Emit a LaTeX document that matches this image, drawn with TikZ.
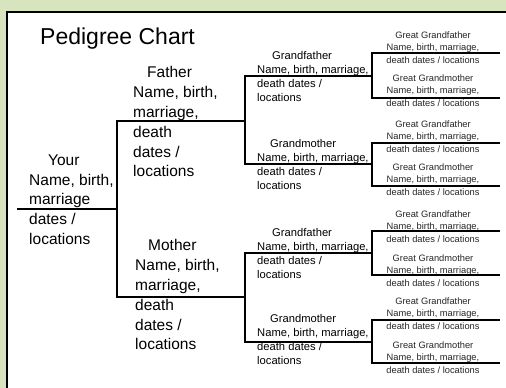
\documentclass[tikz,border=0pt]{standalone}
\usepackage{fontspec}
\setmainfont{Liberation Sans}
\usetikzlibrary{backgrounds}

\definecolor{bggreen}{HTML}{D7E4BD}

\begin{document}
\begin{tikzpicture}[x=1pt,y=-1pt,
    big/.style={anchor=north west,align=left,inner sep=0pt,font=\fontsize{15.5}{19.8}\selectfont},
    mid/.style={anchor=north west,align=left,inner sep=0pt,font=\fontsize{11.2}{14}\selectfont},
    small/.style={anchor=north,align=center,inner sep=0pt,text=black!85,font=\fontsize{9.3}{12.3}\selectfont},
    tree/.style={line width=1.4pt}]
  \useasboundingbox (0,0) rectangle (506,388);
  \fill[bggreen] (0,0) rectangle (506,388);
  \fill[white] (7,12) rectangle (506,388);
  \draw[line width=2.5pt] (7,388) -- (7,12) -- (506,12);

  \node[anchor=base west,inner sep=0pt,font=\fontsize{23}{23}\selectfont] (title) at (40,44) {Pedigree Chart};

  % generation 1 and 2
  \node[big] (you) at (29,154.5) {\hspace{19pt}Your\\Name, birth,\\marriage\\dates /\\locations};
  \node[big] (father) at (133,66.5) {\hspace{14pt}Father\\Name, birth,\\marriage,\\death\\dates /\\locations};
  \node[big] (mother) at (135,239.5) {\hspace{13pt}Mother\\Name, birth,\\marriage,\\death\\dates /\\locations};

  % generation 3
  \node[mid] (gfF) at (257,51) {\hspace{15pt}Grandfather\\Name, birth, marriage,\\death dates /\\locations};
  \node[mid] (gmF) at (257,139) {\hspace{13pt}Grandmother\\Name, birth, marriage,\\death dates /\\locations};
  \node[mid] (gfM) at (257,228) {\hspace{15pt}Grandfather\\Name, birth, marriage,\\death dates /\\locations};
  \node[mid] (gmM) at (257,314) {\hspace{13pt}Grandmother\\Name, birth, marriage,\\death dates /\\locations};

  % generation 4
  \node[small] (ggf1) at (433,31.6) {Great Grandfather\\Name, birth, marriage,\\death dates / locations};
  \node[small] (ggm1) at (433,74.6) {Great Grandmother\\Name, birth, marriage,\\death dates / locations};
  \node[small] (ggf2) at (433,120.6) {Great Grandfather\\Name, birth, marriage,\\death dates / locations};
  \node[small] (ggm2) at (433,163.6) {Great Grandmother\\Name, birth, marriage,\\death dates / locations};
  \node[small] (ggf3) at (433,210.6) {Great Grandfather\\Name, birth, marriage,\\death dates / locations};
  \node[small] (ggm3) at (433,254.6) {Great Grandmother\\Name, birth, marriage,\\death dates / locations};
  \node[small] (ggf4) at (433,297.6) {Great Grandfather\\Name, birth, marriage,\\death dates / locations};
  \node[small] (ggm4) at (433,341.6) {Great Grandmother\\Name, birth, marriage,\\death dates / locations};

  % line ends
  \coordinate (youA) at (17,209);  \coordinate (youB) at (117,209);
  \coordinate (fA) at (117,121);   \coordinate (fB) at (245,121);
  \coordinate (mA) at (117,297);   \coordinate (mB) at (245,297);
  \coordinate (gfFA) at (245,76);  \coordinate (gfFB) at (372,76);
  \coordinate (gmFA) at (245,164); \coordinate (gmFB) at (372,164);
  \coordinate (gfMA) at (245,253); \coordinate (gfMB) at (372,253);
  \coordinate (gmMA) at (245,342); \coordinate (gmMB) at (372,342);
  \coordinate (ggf1A) at (372,53);  \coordinate (ggf1B) at (500,53);
  \coordinate (ggm1A) at (372,98);  \coordinate (ggm1B) at (500,98);
  \coordinate (ggf2A) at (372,143); \coordinate (ggf2B) at (500,143);
  \coordinate (ggm2A) at (372,186); \coordinate (ggm2B) at (500,186);
  \coordinate (ggf3A) at (372,231); \coordinate (ggf3B) at (500,231);
  \coordinate (ggm3A) at (372,275); \coordinate (ggm3B) at (500,275);
  \coordinate (ggf4A) at (372,320); \coordinate (ggf4B) at (500,320);
  \coordinate (ggm4A) at (372,363); \coordinate (ggm4B) at (500,363);

  % tree lines
  \draw[tree] (youA) -- (youB);
  \draw[tree] (fB) -- (fA) -- (mA) -- (mB);
  \draw[tree] (gfFB) -- (gfFA) -- (gmFA) -- (gmFB);
  \draw[tree] (gfMB) -- (gfMA) -- (gmMA) -- (gmMB);
  \draw[tree] (ggf1B) -- (ggf1A) -- (ggm1A) -- (ggm1B);
  \draw[tree] (ggf2B) -- (ggf2A) -- (ggm2A) -- (ggm2B);
  \draw[tree] (ggf3B) -- (ggf3A) -- (ggm3A) -- (ggm3B);
  \draw[tree] (ggf4B) -- (ggf4A) -- (ggm4A) -- (ggm4B);
\end{tikzpicture}
\end{document}
